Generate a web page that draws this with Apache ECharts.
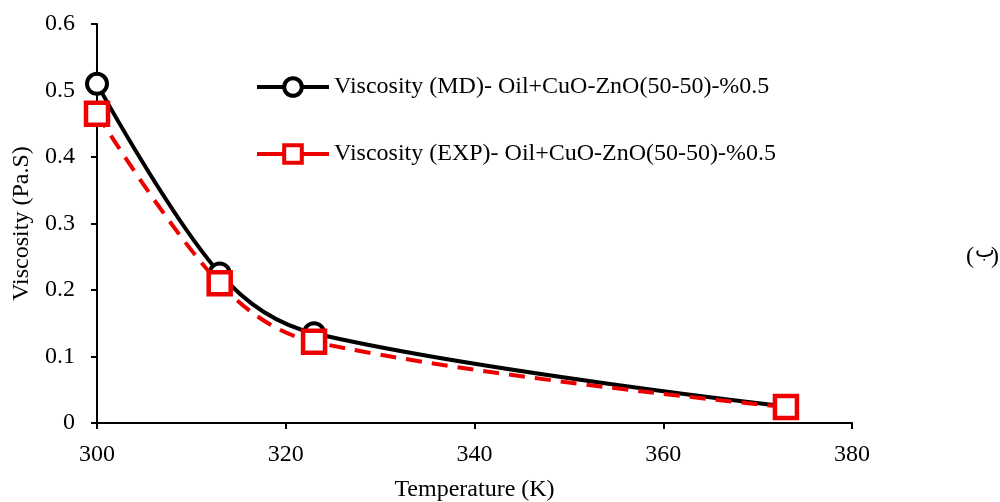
<!DOCTYPE html>
<html>
<head>
<meta charset="utf-8">
<script src="https://cdn.jsdelivr.net/npm/echarts@6/dist/echarts.min.js"></script>
<style>
    html, body { margin: 0; padding: 0; background: #fff; }
    #chart { width: 1000px; height: 502px; }
</style>
</head>
<body>
<div id="chart"></div>
<script>
    // 数据
    var temperature = [300, 313, 323, 373];
    var viscosityMD = [0.51, 0.225, 0.135, 0.025];
    var viscosityEXP = [0.465, 0.21, 0.122, 0.024];
    var seriesNames = [
        'Viscosity (MD)- Oil+CuO-ZnO(50-50)-%0.5',
        'Viscosity (EXP)- Oil+CuO-ZnO(50-50)-%0.5'
    ];

    var font = '"Liberation Serif", "DejaVu Serif", serif';
    var red = '#ee0000';
    var fontSize = 24;

    function pairs(xs, ys) {
        return xs.map(function (x, i) {
            return [x, ys[i]];
        });
    }

    var chart = echarts.init(document.getElementById('chart'), null, {renderer: 'canvas'});

    chart.setOption({
        backgroundColor: '#fff',
        animation: false,
        grid: {
            left: 97,
            right: 148,
            top: 24,
            bottom: 79,
            containLabel: false,
            outerBoundsMode: 'none'
        },
        legend: {
            orient: 'vertical',
            left: 250,
            top: 70,
            itemWidth: 72,
            itemHeight: 22,
            itemGap: 43,
            textStyle: {fontFamily: font, fontSize: fontSize, color: '#000'},
            data: [
                {
                    name: seriesNames[0],
                    itemStyle: {color: '#fff', borderColor: '#000', borderWidth: 4},
                    lineStyle: {color: '#000', width: 4}
                },
                {
                    name: seriesNames[1],
                    itemStyle: {color: '#fff', borderColor: red, borderWidth: 4},
                    lineStyle: {color: red, width: 4, type: 'solid'}
                }
            ]
        },
        xAxis: {
            type: 'value',
            min: 300,
            max: 380,
            interval: 20,
            name: 'Temperature (K)',
            nameLocation: 'middle',
            nameGap: 55,
            nameTextStyle: {fontFamily: font, fontSize: fontSize, color: '#000'},
            axisLine: {lineStyle: {color: '#000', width: 2}},
            axisTick: {show: true, length: 6, lineStyle: {color: '#000', width: 2}},
            axisLabel: {fontFamily: font, fontSize: fontSize, color: '#000', margin: 20},
            splitLine: {show: false}
        },
        yAxis: {
            type: 'value',
            min: 0,
            max: 0.6,
            interval: 0.1,
            name: 'Viscosity (Pa.S)',
            nameLocation: 'middle',
            nameGap: 62,
            nameTextStyle: {fontFamily: font, fontSize: fontSize, color: '#000'},
            axisLine: {show: true, lineStyle: {color: '#000', width: 2}},
            axisTick: {show: true, length: 6, lineStyle: {color: '#000', width: 2}},
            axisLabel: {fontFamily: font, fontSize: fontSize, color: '#000', margin: 22},
            splitLine: {show: false}
        },
        graphic: [
            {
                type: 'text',
                left: 966,
                top: 245,
                style: {text: '(', font: '24px "Liberation Serif", serif', fill: '#000'}
            },
            {
                type: 'text',
                left: 975,
                top: 241,
                style: {text: 'ب', font: '21px "DejaVu Sans", sans-serif', fill: '#000'}
            },
            {
                type: 'text',
                left: 991,
                top: 245,
                style: {text: ')', font: '24px "Liberation Serif", serif', fill: '#000'}
            }
        ],
        series: [
            {
                name: seriesNames[0],
                type: 'line',
                smooth: 0.35,
                data: pairs(temperature, viscosityMD),
                symbol: 'circle',
                symbolSize: 20,
                itemStyle: {color: '#fff', borderColor: '#000', borderWidth: 4},
                lineStyle: {color: '#000', width: 4},
                z: 2
            },
            {
                name: seriesNames[1],
                type: 'line',
                smooth: 0.35,
                data: pairs(temperature, viscosityEXP),
                symbol: 'rect',
                symbolSize: 22,
                itemStyle: {color: '#fff', borderColor: red, borderWidth: 4.5},
                lineStyle: {color: red, width: 4, type: [16, 10]},
                z: 3
            }
        ]
    });
</script>
</body>
</html>
